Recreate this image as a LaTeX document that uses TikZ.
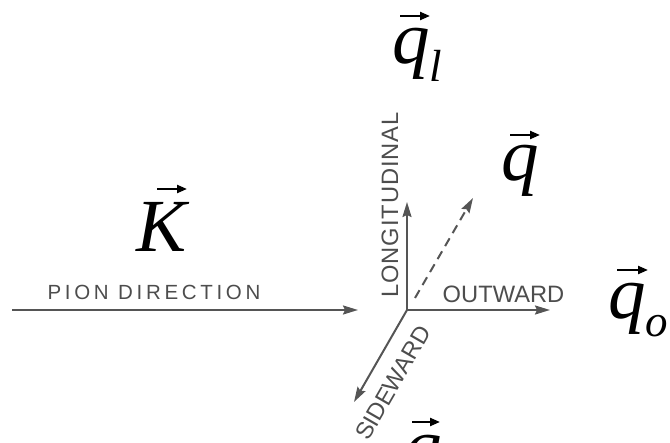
\documentclass[tikz,border=0pt]{standalone}
\usepackage{fontspec}
\setmainfont{Liberation Serif}
\newfontfamily\labfont{Liberation Sans}
\newfontfamily\pionfont[LetterSpace=18]{Liberation Sans}
\newfontfamily\lonfont[LetterSpace=4]{Liberation Sans}
\usetikzlibrary{arrows.meta}
\definecolor{axisc}{HTML}{555555}
\definecolor{labc}{HTML}{4D4D4D}
\tikzset{
 axisline/.style={draw=axisc, line width=2pt, -{Stealth[length=15pt,width=9pt,inset=2pt]}},
 axislab/.style={text=labc, font=\labfont\fontsize{23.7}{24}\selectfont, inner sep=0pt, anchor=base},
 pionlab/.style={text=labc, font=\pionfont\fontsize{20.5}{21}\selectfont, inner sep=0pt, anchor=base},
 vlab/.style={font=\fontsize{75}{75}\selectfont\itshape, inner sep=0pt, anchor=base west},
 vecarr/.style={draw=black, line width=2.2pt, -{Triangle[length=10pt,width=8pt]}},
}
\newcommand{\subl}[1]{\raisebox{-18pt}{\fontsize{45}{45}\selectfont #1}}
\begin{document}
\begin{tikzpicture}[x=1pt,y=-1pt]
\clip (0,0) rectangle (670,443);
% axes
\coordinate (O) at (407,310);
\coordinate (P0) at (12,310);
\coordinate (P1) at (358,310);
\coordinate (L1) at (407,202);
\coordinate (W1) at (550,310);
\coordinate (S1) at (354,402);
\coordinate (Q0) at (415,298);
\coordinate (Q1) at (473,198);
\draw[axisline] (P0) -- (P1);
\draw[axisline] (O) -- (L1);
\draw[axisline] (O) -- (W1);
\draw[axisline] (O) -- (S1);
\draw[axisline, dash pattern=on 9pt off 6pt] (Q0) -- (Q1);
% axis labels
\node[pionlab] (pion) at (154,300) {PION DIRECTION};
\node[axislab, font=\lonfont\fontsize{23.7}{24}\selectfont, rotate=90] (lon) at (398,205) {LONGITUDINAL};
\node[axislab] (out) at (503.5,303) {OUTWARD};
\node[axislab, rotate=60] (side) at (400,387) {SIDEWARD};
% vector labels
\node[vlab] (K) at (136,252) {K};
\draw[vecarr] ([shift={(21,-63)}]K.base west) -- ++(30,0);
\node[vlab] (q) at (501,181) {q};
\draw[vecarr] ([shift={(9,-46)}]q.base west) -- ++(30,0);
\node[vlab] (ql) at (392,64) {q\subl{l}};
\draw[vecarr] ([shift={(8,-48)}]ql.base west) -- ++(30,0);
\node[vlab] (qo) at (608,319) {q\subl{o}};
\draw[vecarr] ([shift={(9,-49)}]qo.base west) -- ++(31,0);
\node[vlab] (qs) at (404,471) {q};
\draw[vecarr] ([shift={(8,-49)}]qs.base west) -- ++(28,0);
\end{tikzpicture}
\end{document}
